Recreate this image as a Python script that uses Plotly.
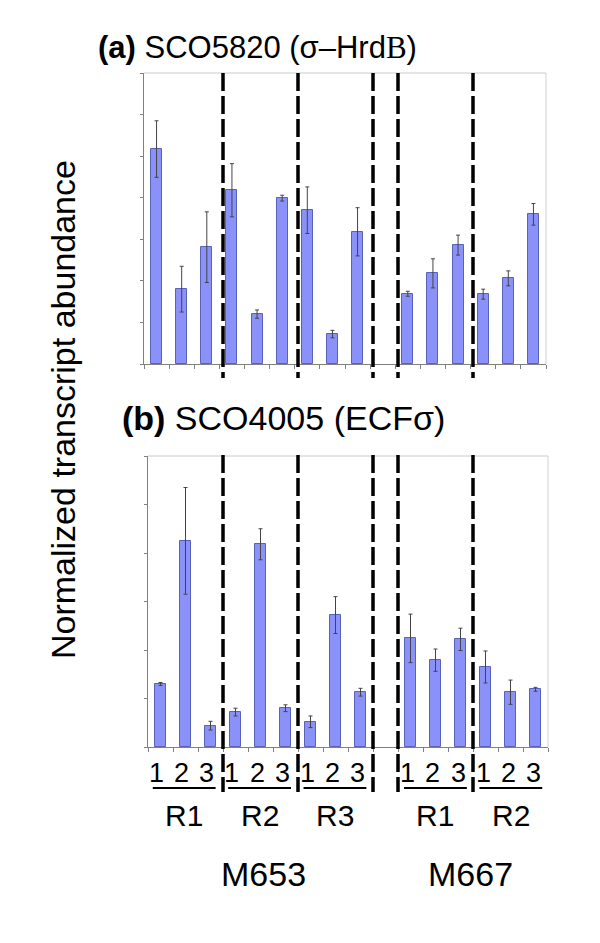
import plotly.graph_objects as go

# the page body has an 8px default margin; the figure is sized to fill the rest
OFF = 8
W, H = 600 - OFF, 943 - OFF

# ---- data ----
strains = ["M653", "M653", "M653", "M653", "M653", "M653", "M653", "M653", "M653",
           "", "M667", "M667", "M667", "M667", "M667", "M667"]
replicates = ["R1", "R1", "R1", "R2", "R2", "R2", "R3", "R3", "R3",
              "", "R1", "R1", "R1", "R2", "R2", "R2"]
timepoints = ["1", "2", "3", "1", "2", "3", "1", "2", "3",
              "", "1", "2", "3", "1", "2", "3"]

hrdb_vals = [5.17, 1.80, 2.81, 4.18, 1.20, 3.99, 3.70, 0.72, 3.18,
             None, 1.69, 2.18, 2.86, 1.68, 2.06, 3.60]
hrdb_err = [0.68, 0.55, 0.85, 0.64, 0.10, 0.07, 0.56, 0.09, 0.58,
            None, 0.06, 0.35, 0.24, 0.12, 0.18, 0.26]

ecf_vals = [1.30, 4.25, 0.44, 0.72, 4.18, 0.80, 0.52, 2.72, 1.13,
            None, 2.24, 1.79, 2.22, 1.65, 1.13, 1.19]
ecf_err = [0.03, 1.10, 0.09, 0.08, 0.32, 0.07, 0.12, 0.38, 0.08,
           None, 0.50, 0.23, 0.23, 0.33, 0.25, 0.04]

group_labels = ["R1", "R2", "R3", "R1", "R2"]
group_starts = [0, 3, 6, 10, 13]
strain_labels = ["M653", "M667"]
strain_centers = [4.25, 12.5]
separators = [2.5, 5.5, 8.5, 9.5, 12.5]

FONT = "Liberation Sans, Arial, sans-serif"
BAR = "#8a91f8"
BAR_LINE = "#5a62b8"

def px(x):
    return (x - OFF) / W

def py(y):
    return 1 - (y - OFF) / H

xs = list(range(len(timepoints)))

fig = go.Figure()
for vals, errs, xa, ya in [(hrdb_vals, hrdb_err, "x", "y"), (ecf_vals, ecf_err, "x2", "y2")]:
    fig.add_trace(go.Bar(
        x=xs, y=vals, width=0.44, xaxis=xa, yaxis=ya,
        marker=dict(color=BAR, line=dict(color=BAR_LINE, width=1)),
        error_y=dict(type="data", array=[e if e is not None else 0 for e in errs],
                     symmetric=True, color="#444444", thickness=1, width=2),
        showlegend=False, hoverinfo="skip",
    ))

def xaxis(domain, anchor):
    return dict(domain=domain, anchor=anchor, range=[-0.5, 15.5],
                tickmode="array", tickvals=[i - 0.5 for i in range(17)],
                showticklabels=False, ticks="outside", ticklen=4, tickcolor="#808080",
                showline=True, linecolor="#808080", linewidth=1,
                showgrid=False, zeroline=False, fixedrange=True)

def yaxis(domain, anchor, top):
    return dict(domain=domain, anchor=anchor, range=[0, top],
                tickmode="array", tickvals=list(range(top + 1)),
                showticklabels=False, ticks="outside", ticklen=3, tickcolor="#808080",
                showline=True, linecolor="#808080", linewidth=1,
                showgrid=False, zeroline=False, fixedrange=True)

fig.update_layout(
    width=W, height=H, margin=dict(l=0, r=0, t=0, b=0),
    paper_bgcolor="white", plot_bgcolor="white",
    xaxis=xaxis([px(144), px(546)], "y"),
    yaxis=yaxis([py(364), py(73)], "x", 7),
    xaxis2=xaxis([px(148), px(548)], "y2"),
    yaxis2=yaxis([py(747), py(456)], "x2", 6),
    bargap=0,
)

shapes = []
# light top/right frame
for (x0, x1, y0, y1) in [(144, 546, 73, 364), (148, 548, 456, 747)]:
    shapes.append(dict(type="line", xref="paper", yref="paper", x0=px(x0), x1=px(x1),
                       y0=py(y0), y1=py(y0), line=dict(color="#c4cccc", width=1)))
    shapes.append(dict(type="line", xref="paper", yref="paper", x0=px(x1), x1=px(x1),
                       y0=py(y0), y1=py(y1), line=dict(color="#d0d0d0", width=1)))

# dashed separators
for s in separators:
    for (y0, y1) in [(73, 378), (455, 792)]:
        shapes.append(dict(type="line", xref="x2", yref="paper", x0=s, x1=s,
                           y0=py(y0), y1=py(y1),
                           line=dict(color="black", width=3.5, dash="18px,5px")))

# underlines of groups
for g in group_starts:
    shapes.append(dict(type="line", xref="x", yref="paper", x0=g - 0.15, x1=g + 2.35,
                       y0=py(788), y1=py(788), line=dict(color="black", width=2)))

annotations = []
annotations.append(dict(xref="paper", yref="paper", x=px(257), y=py(47),
                        xanchor="center", yanchor="middle", showarrow=False,
                        text="<b>(a)</b> SCO5820 (σ\u2013Hrd<span style='font-family:Liberation Serif, serif'>B</span>)",
                        font=dict(family=FONT, size=31, color="black")))
annotations.append(dict(xref="paper", yref="paper", x=px(283), y=py(418),
                        xanchor="center", yanchor="middle", showarrow=False,
                        text="<b>(b)</b> SCO4005 (ECFσ)",
                        font=dict(family=FONT, size=34, color="black")))
annotations.append(dict(xref="paper", yref="paper", x=px(63), y=py(410),
                        xanchor="center", yanchor="middle", showarrow=False,
                        textangle=-90, text="Normalized transcript abundance",
                        font=dict(family=FONT, size=34, color="black")))

for i, t in enumerate(timepoints):
    if t:
        annotations.append(dict(xref="x", yref="paper", x=i, y=py(773),
                                xanchor="center", yanchor="middle", showarrow=False,
                                text=t, font=dict(family=FONT, size=27, color="black")))
for g, lab in zip(group_starts, group_labels):
    annotations.append(dict(xref="x", yref="paper", x=g + 1.1, y=py(815),
                            xanchor="center", yanchor="middle", showarrow=False,
                            text=lab, font=dict(family=FONT, size=30, color="black")))
for c, lab in zip(strain_centers, strain_labels):
    annotations.append(dict(xref="x", yref="paper", x=c, y=py(874),
                            xanchor="center", yanchor="middle", showarrow=False,
                            text=lab, font=dict(family=FONT, size=34, color="black")))

fig.update_layout(shapes=shapes, annotations=annotations)
fig.write_html("out.html")
